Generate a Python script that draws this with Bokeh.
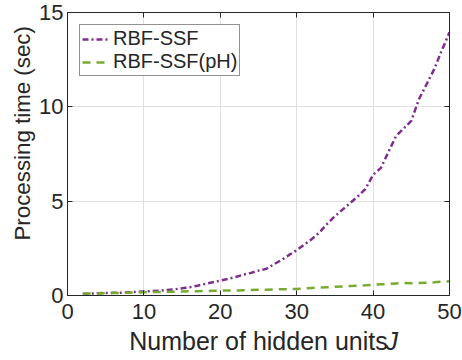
from bokeh.plotting import figure
from bokeh.models import LinearAxis, Legend, LegendItem, Label, FixedTicker, Range1d, Title
from bokeh.embed import file_html
from bokeh.resources import INLINE

hidden_units = list(range(2, 51))
rbf_ssf = [0.09, 0.10, 0.12, 0.13, 0.14, 0.15, 0.17, 0.19, 0.21, 0.23,
           0.26, 0.29, 0.33, 0.38, 0.44, 0.52, 0.61, 0.70, 0.79, 0.88,
           0.98, 1.10, 1.20, 1.32, 1.41, 1.65, 1.88, 2.15, 2.40, 2.70,
           3.00, 3.35, 3.80, 4.20, 4.55, 4.90, 5.25, 5.65, 6.40, 6.75,
           7.60, 8.45, 8.85, 9.26, 10.40, 11.20, 12.00, 13.00, 13.95]
rbf_ssf_ph = [0.09, 0.10, 0.11, 0.12, 0.13, 0.14, 0.15, 0.16, 0.17, 0.18,
              0.19, 0.20, 0.20, 0.21, 0.22, 0.23, 0.24, 0.25, 0.26, 0.27,
              0.27, 0.28, 0.29, 0.30, 0.31, 0.32, 0.33, 0.34, 0.35, 0.37,
              0.40, 0.42, 0.44, 0.46, 0.48, 0.50, 0.52, 0.54, 0.57, 0.59,
              0.61, 0.64, 0.66, 0.65, 0.66, 0.68, 0.70, 0.73, 0.76]
x_ticks = [0, 10, 20, 30, 40, 50]
y_ticks = [0, 5, 10, 15]
x_label = "Number of hidden units"
x_label_var = "J"
y_label = "Processing time (sec)"
series_names = ["RBF-SSF", "RBF-SSF(pH)"]

FONT = "Liberation Sans"
DARK = "#262626"

p = figure(width=462, height=360, output_backend="svg", toolbar_location=None,
           x_range=Range1d(0, 50), y_range=Range1d(0, 15),
           min_border_left=67, min_border_right=13, min_border_top=12, min_border_bottom=65)
p.outline_line_color = None
p.background_fill_color = "white"
p.border_fill_color = "white"

l1 = p.line(hidden_units, rbf_ssf, line_color="#7E2F8E", line_width=2.5, line_dash="6 3 2 3")
l2 = p.line(hidden_units, rbf_ssf_ph, line_color="#77AC30", line_width=2.5, line_dash="8 6")

for ax in (p.xaxis[0], p.yaxis[0]):
    ax.axis_line_color = DARK
    ax.major_tick_line_color = DARK
    ax.major_tick_in = 5
    ax.major_tick_out = 0
    ax.minor_tick_line_color = None
    ax.major_label_text_font = FONT
    ax.major_label_text_font_size = "22px"
    ax.major_label_text_color = DARK
    ax.axis_label_text_font = FONT
    ax.axis_label_text_font_style = "normal"
    ax.axis_label_text_color = DARK

p.xaxis[0].ticker = FixedTicker(ticks=x_ticks)
p.yaxis[0].ticker = FixedTicker(ticks=y_ticks)
p.xaxis[0].major_label_standoff = 8
p.yaxis[0].major_label_standoff = 4
p.xaxis[0].axis_label = x_label
p.xaxis[0].axis_label_text_font_size = "25px"
p.xaxis[0].axis_label_standoff = 5

for loc, ticks in (("right", y_ticks), ("above", x_ticks)):
    ax = LinearAxis(ticker=FixedTicker(ticks=ticks))
    ax.axis_line_color = DARK
    ax.major_tick_line_color = DARK
    ax.major_tick_in = 5
    ax.major_tick_out = 0
    ax.minor_tick_line_color = None
    ax.major_label_overrides = {t: "" for t in ticks}
    ax.major_label_standoff = 0
    p.add_layout(ax, loc)

p.xgrid.ticker = FixedTicker(ticks=x_ticks)
p.ygrid.ticker = FixedTicker(ticks=y_ticks)
p.grid.grid_line_color = "#e0e0e0"
p.grid.grid_line_width = 1

# y-axis title as a side title, starting 55 px above the bottom of the frame
p.add_layout(Title(text=y_label, align="left", offset=55, standoff=4,
                   text_font=FONT, text_font_size="22.3px", text_font_style="normal",
                   text_color=DARK), "left")

# italic variable after the x-axis title (side-panel label, so it is not clipped)
p.add_layout(Label(x=-64, y=-45, x_units="screen", y_units="screen", text=x_label_var,
                   text_font=FONT, text_font_size="25px", text_font_style="italic",
                   text_color=DARK, text_align="left", text_baseline="alphabetic"), "right")

legend = Legend(items=[LegendItem(label=series_names[0], renderers=[l1]),
                       LegendItem(label=series_names[1], renderers=[l2])],
                location="top_left", margin=12, padding=2, spacing=0,
                label_text_font=FONT, label_text_font_size="20px", label_text_color=DARK,
                label_height=22, glyph_height=22, glyph_width=26, label_standoff=5,
                border_line_color=DARK, border_line_width=1, background_fill_alpha=1)
p.add_layout(legend)

open("out.html", "w").write(file_html(p, INLINE))
